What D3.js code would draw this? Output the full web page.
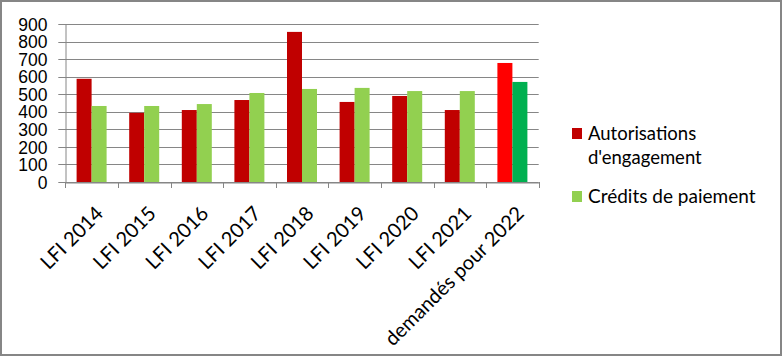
<!DOCTYPE html>
<html>
<head>
<meta charset="utf-8">
<script src="https://cdn.jsdelivr.net/npm/d3@7"></script>
<style>
  body { margin: 0; background: #fff; }
  svg { display: block; font-family: Lato, "Open Sans", sans-serif; }
</style>
</head>
<body>
<svg width="782" height="356"></svg>
<script>
var categories = ["LFI 2014", "LFI 2015", "LFI 2016", "LFI 2017", "LFI 2018",
                  "LFI 2019", "LFI 2020", "LFI 2021", "demandés pour 2022"];
var autorisations = [588, 394, 410, 467, 855, 456, 490, 410, 678];
var credits = [433, 433, 444, 507, 530, 536, 518, 518, 570];
var seriesNames = ["Autorisations d'engagement", "Crédits de paiement"];
var yTicks = [0, 100, 200, 300, 400, 500, 600, 700, 800, 900];

var w = 782, h = 356;
var margin = { left: 65.3, right: 243.3, top: 24, bottom: 174 };
var figw = w - margin.left - margin.right;
var figh = h - margin.top - margin.bottom;

var svg = d3.select("svg");

// outer frame
svg.append("rect")
    .attr("x", 1).attr("y", 1)
    .attr("width", w - 2).attr("height", h - 2)
    .attr("fill", "#fff")
    .attr("stroke", "#868686")
    .attr("stroke-width", 2);

var x = d3.scaleBand().domain(categories)
    .range([margin.left, margin.left + figw]).paddingInner(0).paddingOuter(0);
var y = d3.scaleLinear().domain([0, 900]).range([margin.top + figh, margin.top]);

// gridlines
svg.append("g").selectAll("line")
    .data(yTicks)
    .enter().append("line")
    .attr("x1", margin.left - 7)
    .attr("x2", margin.left + figw)
    .attr("y1", function(d) { return Math.round(y(d)) + 0.5; })
    .attr("y2", function(d) { return Math.round(y(d)) + 0.5; })
    .attr("stroke", "#868686")
    .attr("stroke-width", 1);

// bars
var barW = 15;
var groups = svg.append("g").selectAll("g")
    .data(categories)
    .enter().append("g");

groups.append("rect")
    .attr("x", function(d) { return x(d) + x.bandwidth() / 2 - barW; })
    .attr("width", barW)
    .attr("y", function(d, i) { return y(autorisations[i]); })
    .attr("height", function(d, i) { return y(0) - y(autorisations[i]); })
    .attr("fill", function(d, i) { return i == categories.length - 1 ? "#FF0000" : "#C00000"; });

groups.append("rect")
    .attr("x", function(d) { return x(d) + x.bandwidth() / 2; })
    .attr("width", barW)
    .attr("y", function(d, i) { return y(credits[i]); })
    .attr("height", function(d, i) { return y(0) - y(credits[i]); })
    .attr("fill", function(d, i) { return i == categories.length - 1 ? "#00B050" : "#92D050"; });

// y axis
var yAxis = d3.axisLeft(y).tickValues(yTicks).tickSize(0).tickPadding(18);
var gy = svg.append("g")
    .attr("transform", "translate(" + (Math.round(margin.left) + 0.5) + ",0)")
    .call(yAxis);
gy.select(".domain").attr("stroke", "#868686");
gy.selectAll("text")
    .attr("fill", "#000")
    .style("font-size", "17.5px")
    .attr("dy", "0.35em");

// x axis
var xAxis = d3.axisBottom(x).tickSize(0).tickFormat("");
var gx = svg.append("g")
    .attr("transform", "translate(0," + (Math.round(y(0)) + 0.5) + ")")
    .call(xAxis);
gx.select(".domain").attr("stroke", "#868686");
gx.selectAll(".tick").remove();

// boundaries tick marks
var bounds = categories.map(function(d) { return x(d); }).concat([margin.left + figw]);
svg.append("g").selectAll("line")
    .data(bounds)
    .enter().append("line")
    .attr("x1", function(d) { return Math.round(d) + 0.5; })
    .attr("x2", function(d) { return Math.round(d) + 0.5; })
    .attr("y1", Math.round(y(0)))
    .attr("y2", Math.round(y(0)) + 6)
    .attr("stroke", "#868686");

// x labels
svg.append("g").selectAll("text")
    .data(categories)
    .enter().append("text")
    .attr("transform", function(d) {
        return "translate(" + (x(d) + x.bandwidth() / 2 + 3) + "," + (y(0) + 23) + ") rotate(-45)";
    })
    .attr("text-anchor", "end")
    .attr("dy", "0.7em")
    .style("font-size", "20px")
    .text(function(d) { return d; });

// legend
var legend = svg.append("g").attr("transform", "translate(572,0)");
legend.append("rect").attr("x", 0).attr("y", 128).attr("width", 10).attr("height", 11).attr("fill", "#C00000");
legend.append("text").attr("x", 16).attr("y", 140).style("font-size", "18.5px").text("Autorisations");
legend.append("text").attr("x", 16).attr("y", 164).style("font-size", "18.5px").text("d'engagement");
legend.append("rect").attr("x", 0).attr("y", 191).attr("width", 10).attr("height", 11).attr("fill", "#92D050");
legend.append("text").attr("x", 16).attr("y", 203).style("font-size", "19px").text(seriesNames[1]);
</script>
</body>
</html>
